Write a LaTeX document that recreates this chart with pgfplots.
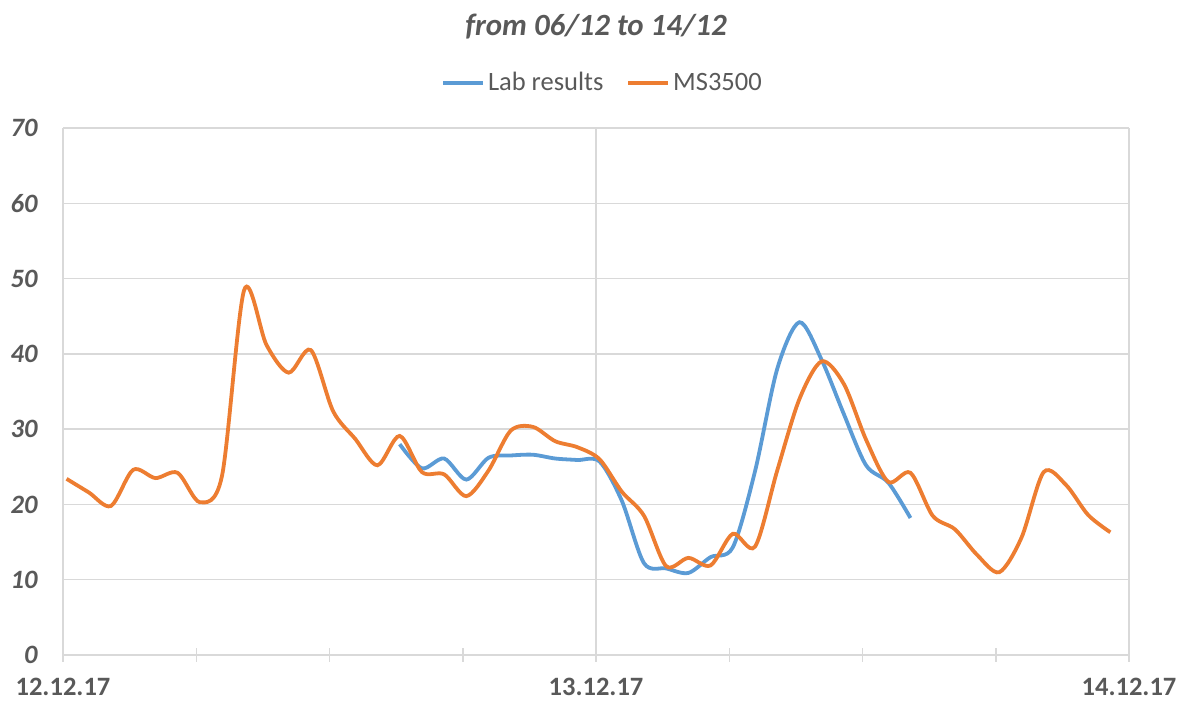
\documentclass[border=0pt]{standalone}
\usepackage{fontspec}
\setmainfont{Carlito}
\usepackage{pgfplots}
\usepackage{pgfplotstable}
\pgfplotsset{compat=1.18}
\definecolor{cblue}{HTML}{5B9BD5}
\definecolor{corange}{HTML}{ED7D31}
\definecolor{cgrid}{HTML}{D9D9D9}
\definecolor{ctext}{HTML}{595959}

\pgfplotstableread{
t v
15.16 28.0
16.16 24.8
17.16 26.1
18.16 23.3
19.16 26.2
20.16 26.5
21.16 26.6
22.16 26.1
23.16 25.9
24.16 25.7
25.16 20.5
26.16 12.2
27.16 11.5
28.16 10.9
29.16 13.0
30.16 14.3
31.16 24.4
32.16 38.0
33.16 44.2
34.16 39.2
35.16 32.0
36.16 25.2
37.16 22.9
38.16 18.2
}\labdata

\pgfplotstableread{
t v
0.16 23.4
1.16 21.6
2.16 19.8
3.16 24.6
4.16 23.5
5.16 24.2
6.16 20.3
7.16 23.8
8.16 48.5
9.16 41.2
10.16 37.5
11.16 40.5
12.16 32.4
13.16 28.7
14.16 25.2
15.16 29.1
16.16 24.3
17.16 24.0
18.16 21.1
19.16 24.5
20.16 29.8
21.16 30.3
22.16 28.4
23.16 27.6
24.16 26.0
25.16 21.7
26.16 18.5
27.16 11.8
28.16 12.9
29.16 11.9
30.16 16.1
31.16 14.4
32.16 24.5
33.16 34.0
34.16 39.0
35.16 36.0
36.16 28.6
37.16 23.0
38.16 24.2
39.16 18.5
40.16 16.7
41.16 13.3
42.16 11.0
43.16 15.6
44.16 24.3
45.16 22.6
46.16 18.6
47.16 16.3
}\msdata

\begin{document}
\begin{tikzpicture}
\begin{axis}[
  scale only axis, width=533bp, height=263.5bp,
  xmin=0, xmax=48, ymin=0, ymax=70,
  xtick={0,24,48}, xticklabels={12.12.17,13.12.17,14.12.17},
  minor xtick={6,12,18,30,36,42},
  ytick={0,10,...,70},
  grid=major, major grid style={cgrid, line width=0.75bp},
  separate axis lines,
  axis x line*=bottom, axis y line*=left,
  x axis line style={cgrid, line width=0.75bp},
  y axis line style={draw=none},
  xtick style={cgrid, line width=0.75bp},
  every minor tick/.append style={cgrid, line width=0.75bp},
  ytick style={draw=none},
  tick align=center,
  major tick length=6.5bp, minor tick length=6.5bp,
  /pgf/number format/assume math mode=true,
  yticklabel style={font=\fontsize{13.3}{16}\selectfont\bfseries\itshape, text=ctext, inner sep=0pt, anchor=east},
  yticklabel shift=9.25bp,
  xticklabel style={font=\fontsize{13.3}{16}\selectfont\bfseries, text=ctext, inner sep=0pt, anchor=north},
  xticklabel shift=8.25bp,
  legend style={at={(0.5,1)}, anchor=south, yshift=15.5bp, xshift=3.5bp, draw=none, fill=none,
    inner sep=0pt, legend columns=2,
    font=\fontsize{13.3}{16}\selectfont, text=ctext,
    nodes={inner sep=1.5bp},
    /tikz/every even column/.append style={column sep=10bp}},
  legend image code/.code={\draw[#1, line width=1.9bp] (0bp,0bp) -- (20bp,0bp);},
]
\addplot[cblue, line width=1.9bp, smooth] table[x=t, y=v] {\labdata};
\addlegendentry{Lab results}
\addplot[corange, line width=1.9bp, smooth] table[x=t, y=v] {\msdata};
\addlegendentry{MS3500}
\coordinate (BL) at (rel axis cs:0,0);
\coordinate (TR) at (rel axis cs:1,1);
\coordinate (TC) at (rel axis cs:0.5,1);
\end{axis}
\node[anchor=base, font=\fontsize{15.5}{18}\selectfont\bfseries\itshape, text=ctext, yshift=46.25bp, inner sep=0pt] at (TC) {from 06/12 to 14/12};
\pgfresetboundingbox
\path (BL) ++(-31.5bp,-24.5bp) coordinate (A);
\path (TR) ++(25bp,64bp) coordinate (B);
\useasboundingbox (A) rectangle (B);
\end{tikzpicture}
\end{document}
